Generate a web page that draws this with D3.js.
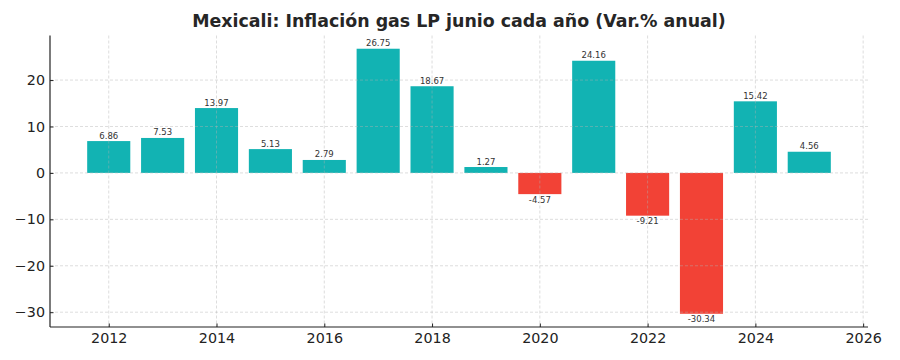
<!DOCTYPE html>
<html><head><meta charset="utf-8">
<script src="https://cdn.jsdelivr.net/npm/d3@7"></script>
<style>body{margin:0;background:#fff}svg{display:block}</style>
</head><body>
<svg id="c" width="900" height="360"></svg>
<script>
const years = [2012,2013,2014,2015,2016,2017,2018,2019,2020,2021,2022,2023,2024,2025];
const values = [6.86,7.53,13.97,5.13,2.79,26.75,18.67,1.27,-4.57,24.16,-9.21,-30.34,15.42,4.56];
const xTicks = [2012,2014,2016,2018,2020,2022,2024,2026];
const yTicks = [-30,-20,-10,0,10,20];
const title = "Mexicali: Inflación gas LP junio cada año (Var.% anual)";

const svg = d3.select("#c");
const L = 50, R = 868, T = 35.5, B = 327;
const x = d3.scaleLinear().domain([2010.91, 2026.09]).range([L, R]);
const y = d3.scaleLinear().domain([-33.19, 29.6]).range([B, T]);
const bw = x(2012.4) - x(2011.6);
const font = "DejaVu Sans, sans-serif";

// bars
svg.append("g").selectAll("rect").data(years).join("rect")
  .attr("x", (d) => x(d - 0.4))
  .attr("width", bw)
  .attr("y", (d, i) => y(Math.max(0, values[i])))
  .attr("height", (d, i) => Math.abs(y(values[i]) - y(0)))
  .attr("fill", (d, i) => values[i] >= 0 ? "#12b3b3" : "#f24236");

// grid (on top)
const grid = svg.append("g").attr("stroke", "#b0b0b0").attr("stroke-opacity", 0.55)
  .attr("stroke-dasharray", "3,2").attr("stroke-width", 0.8);
grid.selectAll(".gx").data(xTicks).join("line")
  .attr("x1", d => x(d)).attr("x2", d => x(d)).attr("y1", T).attr("y2", B);
grid.selectAll(".gy").data(yTicks).join("line")
  .attr("x1", L).attr("x2", R).attr("y1", d => y(d)).attr("y2", d => y(d));

// value labels
svg.append("g").selectAll("text").data(years).join("text")
  .attr("x", d => x(d))
  .attr("y", (d, i) => values[i] >= 0 ? y(values[i]) - 2.5 : y(values[i]) + 8.5)
  .attr("text-anchor", "middle")
  .attr("font-family", font).attr("font-size", 8.5).attr("fill", "#333")
  .text((d, i) => values[i].toFixed(2));

// axes
const xAxis = d3.axisBottom(x).tickValues(xTicks).tickFormat(d3.format("d"))
  .tickSizeInner(-3.5).tickSizeOuter(0).tickPadding(6);
const yAxis = d3.axisLeft(y).tickValues(yTicks).tickFormat(d => d < 0 ? "\u2212" + Math.abs(d) : d)
  .tickSizeInner(-3.5).tickSizeOuter(0).tickPadding(5);
const gx = svg.append("g").attr("transform", `translate(0,${B})`).call(xAxis);
const gy = svg.append("g").attr("transform", `translate(${L},0)`).call(yAxis);
[gx, gy].forEach(g => {
  g.select(".domain").attr("stroke", "#222").attr("stroke-width", 1.2);
  g.selectAll(".tick line").attr("stroke", "#222");
  g.selectAll(".tick text").attr("font-family", font).attr("font-size", 14.3).attr("fill", "#222");
});
gy.select(".domain").attr("d", `M0,${T}V${B}`);
gx.select(".domain").attr("d", `M${L},0H${R}`);

// title
svg.append("text").attr("x", (L + R) / 2).attr("y", 27).attr("text-anchor", "middle")
  .attr("font-family", font).attr("font-weight", "bold").attr("font-size", 17.4).attr("fill", "#262626")
  .text(title);
</script>
</body></html>
